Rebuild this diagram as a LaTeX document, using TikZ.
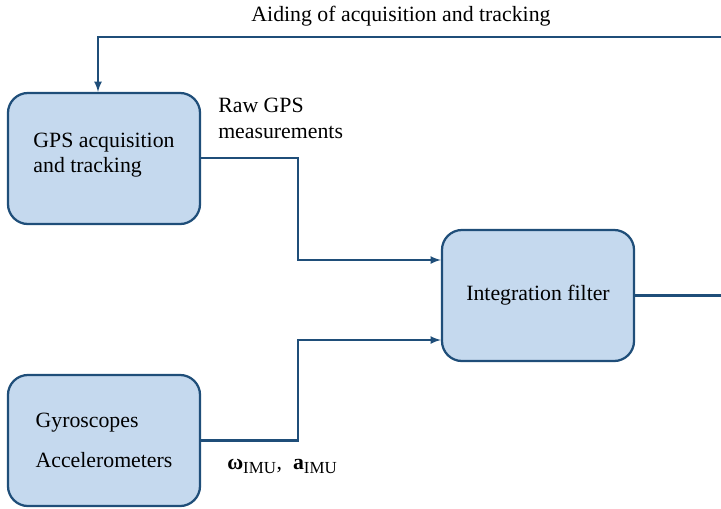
\documentclass[tikz,border=0pt]{standalone}
\usepackage{amsmath}
\usepackage{amssymb}
\usepackage{fontspec}
\setmainfont{Liberation Serif}

\definecolor{boxfill}{HTML}{C5D9EE}
\definecolor{boxline}{HTML}{1F4E79}

\tikzset{
  blockbox/.style={draw=boxline, fill=boxfill, line width=1.6pt, rounded corners=0.5cm,
    minimum width=4.8cm, minimum height=3.275cm, align=left,
    font=\fontsize{15.5}{18}\selectfont},
  link/.style={draw=boxline, line width=1.5pt},
  lbl/.style={font=\fontsize{15.5}{19}\selectfont, align=left, inner sep=0pt}
}

\begin{document}
\begin{tikzpicture}[x=0.025cm, y=-0.025cm, >=latex]
      \useasboundingbox (0,0) rectangle (721,508);

      \node[blockbox](gps)  at (104.0, 158.5){GPS acquisition\\and tracking\\[-10pt]};
      \node[blockbox](filt) at (538.0, 295.5){Integration filter};
      \node[blockbox](imu)  at (104.0, 440.5){Gyroscopes\\[10pt]Accelerometers};

      \coordinate(outR) at (721.0, 295.5);
      \coordinate(topR) at (721.0, 37.0);
      \coordinate(topL) at ( 98.0, 37.0);

      \node[lbl](aid) at (401.0, 16.0){Aiding of acquisition and tracking};
      \node[lbl, anchor=west](raw) at (218.0, 118.5){Raw GPS\\measurements};
      \node[lbl, anchor=west](meas) at (227.0, 466.0){$\text{\bfseries ω}_{\text{\fontsize{12}{12}\selectfont IMU}}$,\enspace$\text{\bfseries a}_{\text{\fontsize{12}{12}\selectfont IMU}}$};

      \draw[link, ->] (topR) -- (topL) -- (gps.north -| topL);
      \draw[link] (filt.east) -- (outR);

      \draw[link, ->] (gps.east |- 0,158) -- (298,158) -- (298,260) -- (filt.west |- 0,260);
      \draw[link, ->] (imu.east) -- (298,440.5) -- (298,340) -- (filt.west |- 0,340);
    \end{tikzpicture}
\end{document}
